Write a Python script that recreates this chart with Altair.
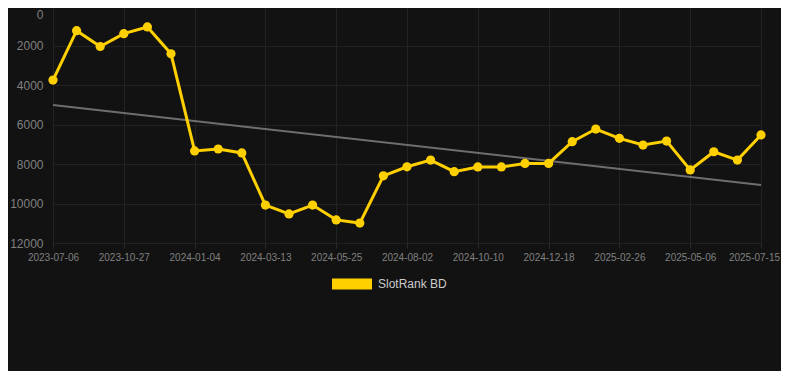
import altair as alt
import pandas as pd

dates = [
    "2023-07-06", "2023-08-13", "2023-09-20", "2023-10-27", "2023-11-19", "2023-12-12",
    "2024-01-04", "2024-01-27", "2024-02-19", "2024-03-13", "2024-04-06", "2024-04-30",
    "2024-05-25", "2024-06-17", "2024-07-10", "2024-08-02", "2024-08-25", "2024-09-17",
    "2024-10-10", "2024-11-02", "2024-11-25", "2024-12-18", "2025-01-10", "2025-02-02",
    "2025-02-26", "2025-03-21", "2025-04-13", "2025-05-06", "2025-05-29", "2025-06-21",
    "2025-07-15",
]
ranks = [
    3750, 1250, 2050, 1400, 1060, 2420,
    7340, 7240, 7440, 10080, 10530, 10080,
    10830, 10990, 8600, 8140, 7800, 8390,
    8150, 8150, 7970, 7970, 6870, 6230,
    6700, 7040, 6840, 8300, 7380, 7800,
    6530,
]
label_dates = dates[::3]
y_ticks = [0, 2000, 4000, 6000, 8000, 10000, 12000]
trend_dates = [dates[0], dates[-1]]
trend_values = [5010, 9060]
series_name = "SlotRank BD"

df = pd.DataFrame({"date": dates, "rank": ranks, "series": series_name})
tdf = pd.DataFrame({"date": trend_dates, "rank": trend_values})

last_test = "datum.value == '%s'" % dates[-1]
x = alt.X("date:O", sort=dates,
          scale=alt.Scale(type="point", padding=0, domain=dates),
          axis=alt.Axis(values=label_dates, title=None, labelAngle=0,
                        labelOffset={"condition": {"test": last_test, "value": -7},
                                     "value": 0},
                        labelColor="#808080", labelFontSize=10, labelFont="Liberation Sans",
                        grid=True, gridColor="#222222", domain=False,
                        tickColor="#2a2a2a", tickSize=5, labelPadding=4))
y = alt.Y("rank:Q",
          scale=alt.Scale(domain=[0, 12000], reverse=True, nice=False),
          axis=alt.Axis(values=y_ticks, title=None, format="d",
                        labelBaseline={"condition": {"test": "datum.value == 0", "value": "top"},
                                       "value": "middle"},
                        labelOffset={"condition": {"test": "datum.value == 0", "value": 3},
                                     "value": 0},
                        labelColor="#808080", labelFontSize=12, labelFont="Liberation Sans",
                        gridColor="#222222", domain=False, ticks=False, labelPadding=10))

trend = alt.Chart(tdf).mark_line(color="#6e6e6e", strokeWidth=2).encode(x=x, y=y)

line = alt.Chart(df).mark_line(strokeWidth=3).encode(
    x=x, y=y,
    color=alt.Color("series:N", scale=alt.Scale(range=["#FFD000"]),
                    legend=alt.Legend(title=None, orient="none", legendX=279, legendY=258,
                                      symbolType="M-1,-0.275L1,-0.275L1,0.275L-1,0.275Z",
                                      symbolSize=1600, symbolStrokeWidth=0,
                                      labelColor="#cccccc", labelFontSize=12,
                                      labelFont="Liberation Sans", labelOffset=6)),
)
pts = alt.Chart(df).mark_point(filled=True, size=85, opacity=1).encode(
    x=x, y=y, color=alt.Color("series:N", scale=alt.Scale(range=["#FFD000"]), legend=None)
)

chart = (trend + line + pts).properties(
    width=708, height=237, background="#121212",
    padding={"left": 45, "top": -2, "right": 20, "bottom": 128},
    autosize=alt.AutoSizeParams(type="none"),
).configure_view(stroke=None)

chart.save("out.html", embed_options={"renderer": "svg", "actions": False})
